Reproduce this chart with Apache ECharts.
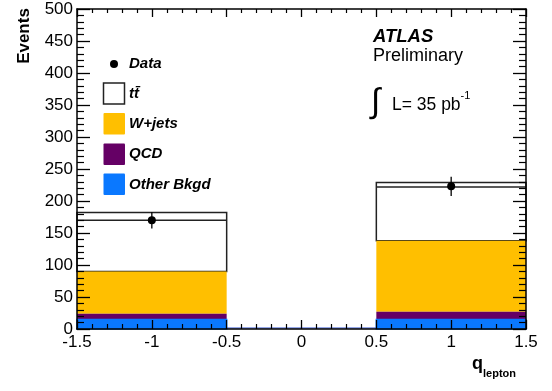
<!DOCTYPE html>
<html>
<head>
<meta charset="utf-8">
<script src="https://cdn.jsdelivr.net/npm/echarts@6/dist/echarts.min.js"></script>
<style>
  html, body { margin: 0; padding: 0; background: #fff; }
  #chart { width: 552px; height: 391px; }
</style>
</head>
<body>
<div id="chart"></div>
<script>
// Lepton charge distribution: stacked expectation per bin plus data points.
const binEdges   = [-1.5, -0.5, 0.5, 1.5];
const otherBkgd  = [15, 0, 15];
const qcd        = [9, 0, 12];
const wjets      = [66, 0, 111];
const ttbar      = [92, 0, 91];
const stackInner = [170, 0, 222];   // second stack outline drawn inside the tt̄ box
const dataX      = [-1, 1];
const dataY      = [170, 223];
const dataErr    = [13, 15];

const legendNames = ['Data', 'tt\u0304', 'W+jets', 'QCD', 'Other Bkgd'];
const colors = { wjets: '#ffbf00', qcd: '#650065', other: '#0a78ff' };

const FONT = 'Liberation Sans, Arial, Helvetica, sans-serif';

// Build [x0, x1, base, top] rows for one stacked component
function stackRows(vals, base) {
  return vals.map((v, i) => [binEdges[i], binEdges[i + 1], base[i], base[i] + v]);
}
const zero = binEdges.slice(1).map(() => 0);
const base1 = otherBkgd.map((v) => v);
const base2 = base1.map((v, i) => v + qcd[i]);
const base3 = base2.map((v, i) => v + wjets[i]);

function histSeries(name, rows, fill, stroke, z, keepEmpty) {
  return {
    type: 'custom', name, silent: true, z,
    data: rows,
    encode: { x: [0, 1], y: [2, 3] },
    renderItem(params, api) {
      const lo = api.value(2), hi = api.value(3);
      const p0 = api.coord([api.value(0), lo]);
      const p1 = api.coord([api.value(1), hi]);
      if (hi - lo <= 0) {
        // empty bin: only the histogram outline along the floor
        if (!keepEmpty) return null;
        return { type: 'line', shape: { x1: p0[0], y1: p0[1] - 1, x2: p1[0], y2: p0[1] - 1 },
                 style: { stroke: '#2a4fd0', lineWidth: 1 } };
      }
      return {
        type: 'rect',
        shape: { x: p0[0], y: p1[1], width: p1[0] - p0[0], height: p0[1] - p1[1] },
        style: { fill, stroke: stroke || null, lineWidth: stroke ? 1.5 : 0 }
      };
    }
  };
}

const innerRows = stackInner.map((v, i) => [binEdges[i], binEdges[i + 1], v]);
const dataRows = dataX.map((x, i) => [x, dataY[i], dataErr[i]]);

const axisCommon = {
  axisLine: { onZero: false, lineStyle: { color: '#000', width: 1.5 } },
  splitLine: { show: false },
  z: 10
};

const option = {
  animation: false,
  backgroundColor: '#fff',
  grid: { left: 77, right: 26, top: 9, bottom: 62 },
  xAxis: [
    Object.assign({
      type: 'value', min: -1.5, max: 1.5, interval: 0.5, position: 'bottom',
      axisTick: { inside: true, length: 9, lineStyle: { color: '#000', width: 1.3 } },
      minorTick: { show: true, splitNumber: 5, length: 5, lineStyle: { color: '#000', width: 1.2 } },
      axisLabel: { color: '#000', fontSize: 17, fontFamily: FONT, margin: 5 }
    }, axisCommon),
    Object.assign({
      type: 'value', min: -1.5, max: 1.5, interval: 0.5, position: 'top',
      axisTick: { inside: true, length: 8, lineStyle: { color: '#000', width: 1.3 } },
      minorTick: { show: true, splitNumber: 5, length: 4, lineStyle: { color: '#000', width: 1.2 } },
      axisLabel: { show: false }
    }, axisCommon)
  ],
  yAxis: [
    Object.assign({
      type: 'value', min: 0, max: 500, interval: 50, position: 'left',
      axisTick: { inside: true, length: 13, lineStyle: { color: '#000', width: 1.3 } },
      minorTick: { show: true, splitNumber: 5, length: 7, lineStyle: { color: '#000', width: 1.2 } },
      axisLabel: { color: '#000', fontSize: 17, fontFamily: FONT, margin: 4 }
    }, axisCommon),
    Object.assign({
      type: 'value', min: 0, max: 500, interval: 50, position: 'right',
      axisTick: { inside: true, length: 13, lineStyle: { color: '#000', width: 1.3 } },
      minorTick: { show: true, splitNumber: 5, length: 7, lineStyle: { color: '#000', width: 1.2 } },
      axisLabel: { show: false }
    }, axisCommon)
  ],
  series: [
    histSeries('tt', stackRows(ttbar, base3), '#fff', '#222', 1, false),
    histSeries('W+jets', stackRows(wjets, base2), colors.wjets, null, 2, false),
    histSeries('QCD', stackRows(qcd, base1), colors.qcd, null, 2, false),
    histSeries('Other Bkgd', stackRows(otherBkgd, zero), colors.other, colors.other, 2, true),
    {
      type: 'custom', name: 'inner', silent: true, z: 3,
      data: innerRows,
      encode: { x: [0, 1], y: 2 },
      renderItem(params, api) {
        if (api.value(2) <= 0) return null;
        const a = api.coord([api.value(0), api.value(2)]);
        const b = api.coord([api.value(1), api.value(2)]);
        return { type: 'line', shape: { x1: a[0], y1: a[1], x2: b[0], y2: b[1] },
                 style: { stroke: '#222', lineWidth: 1.5 } };
      }
    },
    {
      type: 'custom', name: 'Data', silent: true, z: 5,
      data: dataRows,
      encode: { x: 0, y: 1 },
      renderItem(params, api) {
        const x = api.value(0), y = api.value(1), e = api.value(2);
        const c = api.coord([x, y]);
        const lo = api.coord([x, y - e]);
        const hi = api.coord([x, y + e]);
        return {
          type: 'group',
          children: [
            { type: 'line', shape: { x1: c[0], y1: lo[1], x2: c[0], y2: hi[1] },
              style: { stroke: '#000', lineWidth: 1.3 } },
            { type: 'circle', shape: { cx: c[0], cy: c[1], r: 4 }, style: { fill: '#000' } }
          ]
        };
      }
    }
  ],
  graphic: [
    // axis titles
    { type: 'text', x: 24, y: 36, rotation: Math.PI / 2, z: 20,
      style: { text: 'Events', font: 'bold 17px ' + FONT, fill: '#000', align: 'center', verticalAlign: 'middle' } },
    { type: 'text', x: 472, y: 364, z: 20,
      style: { text: 'q', font: 'bold 18px ' + FONT, fill: '#000', align: 'left', verticalAlign: 'middle' } },
    { type: 'text', x: 483, y: 373.5, z: 20,
      style: { text: 'lepton', font: 'bold 11px ' + FONT, fill: '#000', align: 'left', verticalAlign: 'middle' } },
    // experiment labels
    { type: 'text', x: 373, y: 36.5, z: 20,
      style: { text: 'ATLAS', font: 'italic bold 18.5px ' + FONT, fill: '#000', verticalAlign: 'middle' } },
    { type: 'text', x: 373, y: 56.5, z: 20,
      style: { text: 'Preliminary', font: '18px ' + FONT, fill: '#000', verticalAlign: 'middle' } },
    { type: 'text', x: 371, y: 103, z: 20,
      style: { text: '\u222B', font: '34px ' + FONT, fill: '#000', verticalAlign: 'middle' } },
    { type: 'text', x: 392, y: 105.5, z: 20,
      style: { text: 'L= 35 pb', font: '17.5px ' + FONT, fill: '#000', verticalAlign: 'middle' } },
    { type: 'text', x: 460.5, y: 96, z: 20,
      style: { text: '-1', font: '11px ' + FONT, fill: '#000', verticalAlign: 'middle' } },
    // legend
    { type: 'circle', shape: { cx: 114, cy: 64, r: 4 }, style: { fill: '#000' }, z: 20 },
    { type: 'rect', shape: { x: 103.5, y: 83, width: 21, height: 21 }, style: { fill: '#fff', stroke: '#222', lineWidth: 1.5 }, z: 20 },
    { type: 'rect', shape: { x: 103.5, y: 113, width: 21.5, height: 21.5, r: 1 }, style: { fill: colors.wjets }, z: 20 },
    { type: 'rect', shape: { x: 103.5, y: 143.5, width: 21.5, height: 21.5, r: 1 }, style: { fill: colors.qcd }, z: 20 },
    { type: 'rect', shape: { x: 103.5, y: 173.5, width: 21.5, height: 21.5, r: 1 }, style: { fill: colors.other }, z: 20 }
  ].concat(legendNames.map((name, i) => ({
    type: 'text', x: 129, y: [64, 94, 124, 154, 184.5][i], z: 20,
    style: { text: name, font: 'italic bold 15px ' + FONT, fill: '#000', verticalAlign: 'middle' }
  })))
};

const chart = echarts.init(document.getElementById('chart'), null, { renderer: 'canvas' });
chart.setOption(option);
</script>
</body>
</html>
